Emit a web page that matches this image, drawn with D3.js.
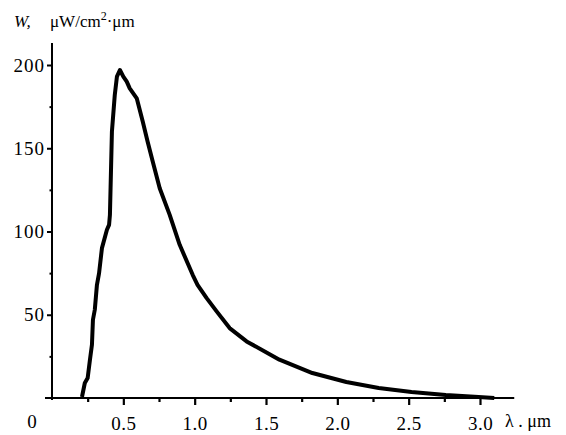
<!DOCTYPE html>
<html>
<head>
<meta charset="utf-8">
<script src="https://cdn.jsdelivr.net/npm/d3@7"></script>
<style>
	body { margin: 0; background: #fff; }
	text { font-family: "Liberation Serif", "DejaVu Serif", serif; fill: #000; }
</style>
</head>
<body>
<svg id="chart" width="566" height="435"></svg>
<script>
// spectrum: wavelength (um) and W (uW/cm2.um)
var wavelength = [0.21, 0.23, 0.25, 0.266, 0.28, 0.287, 0.30, 0.315, 0.33, 0.35, 0.385, 0.40, 0.406, 0.42,
	0.44, 0.455, 0.476, 0.50, 0.524, 0.545, 0.594, 0.636, 0.67, 0.706, 0.755, 0.825, 0.895, 0.986, 1.02,
	1.084, 1.154, 1.245, 1.364, 1.594, 1.825, 2.063, 2.29, 2.52, 2.76, 2.99, 3.1];
var intensity = [0.6, 9, 12, 23, 32, 47, 53, 68, 75, 90, 101, 104, 110, 160,
	182, 193, 197, 193, 190, 186, 180, 166, 154, 142, 126, 110, 92, 74, 68,
	60, 52, 42, 34, 23, 15, 9.6, 6, 3.6, 1.8, 0.6, 0];

var x_major = [0.5, 1.0, 1.5, 2.0, 2.5, 3.0];
var x_minor = [0.25, 0.75, 1.25, 1.75, 2.25, 2.75];
var y_major = [50, 100, 150, 200];
var y_minor = [25, 75, 125, 175];

var svg = d3.select("#chart");

var x = d3.scaleLinear().domain([0, 3]).range([52, 480]);
var y = d3.scaleLinear().domain([0, 200]).range([398, 65]);

function draw_axes(){
	// x axis, ticks pointing down
	var xa = svg.append("g").attr("transform", "translate(0,398)");
	xa.call(d3.axisBottom(x).tickValues(x_major).tickSize(7).tickFormat(d3.format(".1f")));
	xa.append("g").call(d3.axisBottom(x).tickValues(x_minor).tickSize(4).tickFormat(""));
	xa.selectAll(".domain").remove();
	xa.append("line")
		.attr("x1", 45).attr("x2", x(3.24))
		.attr("stroke", "#000").attr("stroke-width", 2.2);
	xa.selectAll("line").attr("stroke-width", 2.2);
	xa.selectAll("text")
		.attr("y", 19)
		.style("font-size", "19px")
		.style("letter-spacing", "0.5px")
		.style("font-family", "Liberation Serif");

	// y axis, ticks pointing left
	var ya = svg.append("g").attr("transform", "translate(52,0)");
	ya.call(d3.axisLeft(y).tickValues(y_major).tickSize(5));
	ya.append("g").call(d3.axisLeft(y).tickValues(y_minor).tickSize(2.5).tickFormat(""));
	ya.selectAll(".domain").remove();
	ya.append("line")
		.attr("y1", 43).attr("y2", 400)
		.attr("stroke", "#000").attr("stroke-width", 2.2);
	ya.selectAll("line").attr("stroke-width", 2);
	ya.selectAll("text")
		.attr("x", -7)
		.style("font-size", "19px")
		.style("letter-spacing", "1px")
		.style("font-family", "Liberation Serif");

	svg.append("text")
		.attr("x", 32).attr("y", 428)
		.attr("text-anchor", "middle")
		.style("font-size", "19px")
		.text("0");

	svg.append("text")
		.attr("x", 505).attr("y", 427)
		.style("font-size", "18px")
		.text("λ . μm");

	var title = svg.append("text")
		.attr("y", 27)
		.style("font-size", "17px");
	title.append("tspan").attr("x", 14).style("font-style", "italic").text("W,");
	title.append("tspan").attr("x", 50).text("μW/cm");
	title.append("tspan").attr("dy", -7).style("font-size", "12px").text("2");
	title.append("tspan").attr("dy", 7).text("·μm");
}

function draw_curve(){
	var pts = wavelength.map(function(l, i){ return [l, intensity[i]]; });
	var line = d3.line()
		.x(function(d){ return x(d[0]); })
		.y(function(d){ return y(d[1]); });
	svg.append("path")
		.datum(pts)
		.attr("d", line)
		.attr("fill", "none")
		.attr("stroke", "#000")
		.attr("stroke-width", 4)
		.attr("stroke-linejoin", "round");
}

draw_axes();
draw_curve();
</script>
</body>
</html>
